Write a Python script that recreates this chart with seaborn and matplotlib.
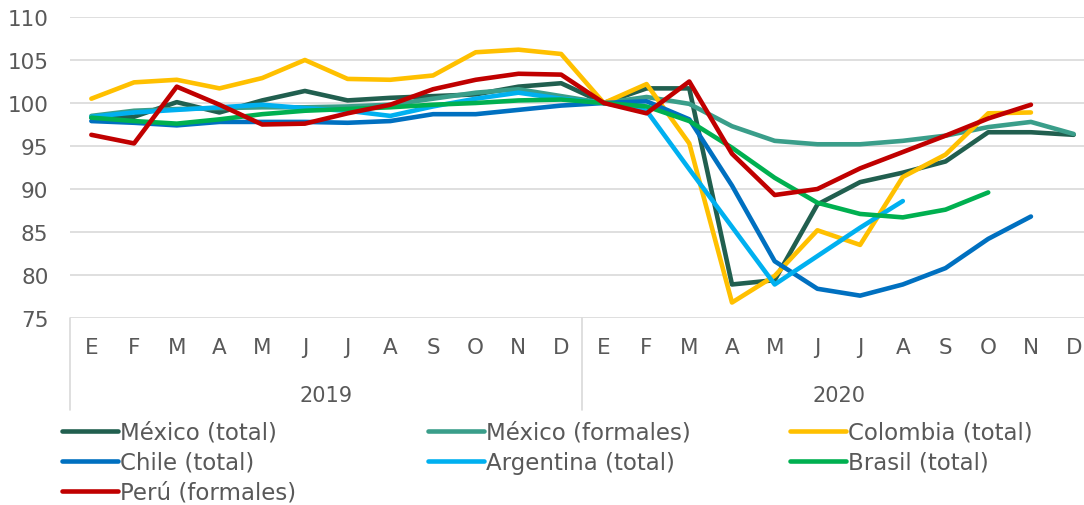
import pandas as pd
import numpy as np
import matplotlib.pyplot as plt
import matplotlib.transforms as mtransforms
import seaborn as sns

# Month letters (Spanish) and years
months = ['E', 'F', 'M', 'A', 'M', 'J', 'J', 'A', 'S', 'O', 'N', 'D']
years = ['2019', '2020']

# Employment index, one value per month (Jan-2019 .. Dec-2020); shorter series stop early
mexico_total = [98.3, 98.4, 100.1, 98.9, 100.3, 101.4, 100.3, 100.6, 100.8, 101.0, 101.9, 102.3,
                100.0, 101.7, 101.7, 78.9, 79.4, 88.2, 90.8, 91.9, 93.2, 96.6, 96.6, 96.3]
mexico_formales = [98.5, 99.1, 99.3, 99.4, 99.5, 99.5, 99.6, 99.8, 100.5, 101.2, 101.6, 100.8,
                   100.0, 100.7, 99.9, 97.3, 95.6, 95.2, 95.2, 95.6, 96.2, 97.2, 97.8, 96.4]
colombia_total = [100.5, 102.4, 102.7, 101.7, 102.9, 105.0, 102.8, 102.7, 103.2, 105.9, 106.2, 105.7,
                  100.0, 102.2, 95.3, 76.8, 79.9, 85.2, 83.5, 91.4, 94.0, 98.8, 98.9]
chile_total = [97.9, 97.7, 97.4, 97.8, 97.8, 97.8, 97.7, 97.9, 98.7, 98.7, 99.2, 99.7,
               100.0, 100.2, 98.1, 90.4, 81.6, 78.4, 77.6, 78.9, 80.8, 84.2, 86.8]
argentina_total = [98.4, 98.9, 99.2, 99.5, 99.8, 99.4, 99.1, 98.5, 99.6, 100.5, 101.2, 100.5,
                   100.0, 99.1, 92.3, 85.6, 78.9, 82.2, 85.5, 88.6]
brasil_total = [98.3, 97.9, 97.6, 98.1, 98.7, 99.1, 99.3, 99.5, 99.8, 100.0, 100.3, 100.4,
                100.0, 99.6, 97.9, 94.8, 91.3, 88.4, 87.1, 86.7, 87.6, 89.6]
peru_formales = [96.3, 95.3, 101.9, 99.8, 97.5, 97.6, 98.8, 99.8, 101.6, 102.7, 103.4, 103.3,
                 100.0, 98.8, 102.5, 94.1, 89.3, 90.0, 92.4, 94.3, 96.2, 98.2, 99.8]

series_names = ['México (total)', 'México (formales)', 'Colombia (total)', 'Chile (total)',
                'Argentina (total)', 'Brasil (total)', 'Perú (formales)']
series_values = [mexico_total, mexico_formales, colombia_total, chile_total,
                 argentina_total, brasil_total, peru_formales]
colors = ['#215F4F', '#3A9E8A', '#FFC000', '#0070C0', '#00B0F0', '#00B050', '#C00000']

# long format table for seaborn
rows = []
for name, vals in zip(series_names, series_values):
    for i, v in enumerate(vals):
        rows.append({'serie': name, 'mes': i, 'valor': v})
df = pd.DataFrame(rows)

sns.set_style('white')
plt.rcParams['font.family'] = ['DejaVu Sans']
text_color = '#595959'

fig = plt.figure(figsize=(10.84, 5.06), dpi=100)
ax = fig.add_axes([70 / 1084, 187 / 506, 1025 / 1084, 301 / 506])

sns.lineplot(data=df, x='mes', y='valor', hue='serie', hue_order=series_names,
             palette=colors, linewidth=3.3, ax=ax, legend=False, estimator=None,
             sort=False)

ax.set_ylim(75, 110)
ax.set_xlim(-0.5, 23.5)
ax.set_yticks(np.arange(75, 111, 5))
ax.yaxis.grid(True, color='#D9D9D9', linewidth=1.2)
ax.set_axisbelow(True)
for s in ax.spines.values():
    s.set_visible(False)
ax.set_xlabel('')
ax.set_ylabel('')
ax.tick_params(axis='y', length=0, pad=15.5, labelsize=15.5, labelcolor=text_color)

ax.set_xticks(range(24), labels=months * 2)
ax.tick_params(axis='x', length=0, pad=13.5, labelsize=15.5, labelcolor=text_color)

trans = mtransforms.blended_transform_factory(ax.transData, ax.transAxes)
for k, yr in enumerate(years):
    ax.text(5.5 + 12 * k, -0.255, yr, transform=trans, ha='center', va='center',
            fontsize=15, color=text_color)
for xs in [-0.5, 11.5, 23.5]:
    ax.plot([xs, xs], [0, -0.305], transform=trans, color='#D9D9D9', linewidth=1.2,
            clip_on=False)

# legend laid out in three fixed columns like the original
handles = [plt.Line2D([], [], color=c, linewidth=3.3, solid_capstyle='round') for c in colors]
col_x = [62 / 1084, 428 / 1084, 790 / 1084]
for c in range(3):
    idx = list(range(c, 7, 3))
    leg = fig.legend([handles[i] for i in idx], [series_names[i] for i in idx],
                     loc='upper left', bbox_to_anchor=(col_x[c], 1 - 422 / 506),
                     frameon=False, fontsize=16.5, handlelength=2.45, handletextpad=0.1,
                     labelspacing=0.3, borderpad=0, borderaxespad=0)
    for t in leg.get_texts():
        t.set_color(text_color)

fig.savefig('out.png', dpi=100)
